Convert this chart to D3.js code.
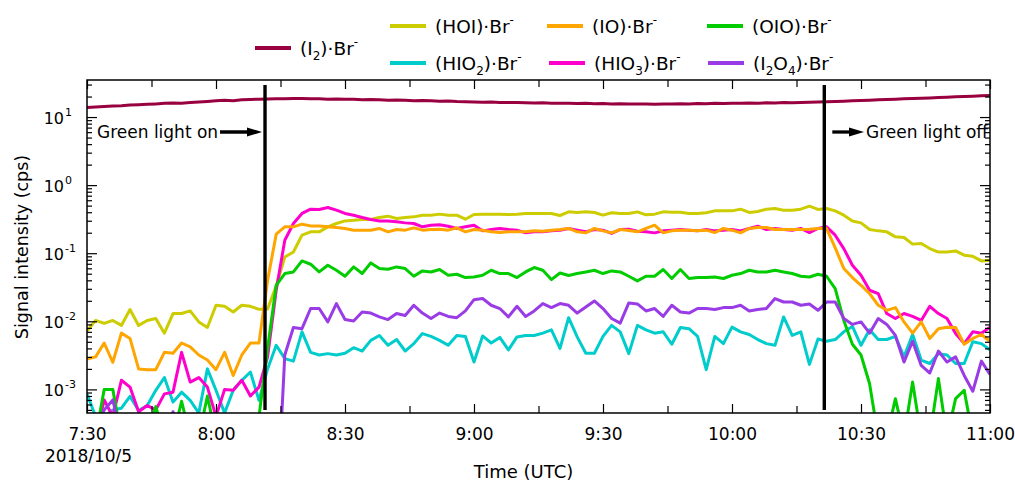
<!DOCTYPE html>
<html>
<head>
<meta charset="utf-8">
<style>
body { margin: 0; background: #fff; }
text { font-family: "DejaVu Sans", sans-serif; fill: #000; }
.tick line { stroke: #000; stroke-width: 1.2px; }
.series { fill: none; stroke-width: 3px; stroke-linejoin: round; }
</style>
<title></title>
</head>
<body>
<script src="https://cdn.jsdelivr.net/npm/d3@7/dist/d3.min.js"></script>
<script>

// samples every 2 minutes, 7:30 - 11:00 UTC, 2018/10/5
var start = new Date(2018, 9, 5, 7, 30),
    stepMin = 2;

var i2 = [13.8, 14.1, 14.3, 14.5, 14.6, 15.0, 15.2, 15.4, 15.6, 15.9,
  16.1, 16.0, 16.4, 16.6, 16.9, 17.3, 17.6, 17.4, 17.9, 18.1,
  18.3, 18.4, 18.6, 18.5, 18.7, 18.8, 18.6, 18.5, 18.3, 18.4,
  18.2, 18.3, 18.0, 18.1, 17.9, 17.7, 17.8, 17.6, 17.4, 17.5,
  17.3, 17.1, 17.2, 16.9, 16.8, 16.7, 16.5, 16.6, 16.4, 16.3,
  16.4, 16.2, 16.1, 16.2, 16.0, 15.9, 16.0, 15.8, 15.9, 15.7,
  15.8, 15.6, 15.7, 15.5, 15.6, 15.5, 15.4, 15.6, 15.5, 15.7,
  15.6, 15.8, 15.7, 15.9, 15.8, 16.0, 15.9, 16.1, 16.0, 16.2,
  16.1, 16.3, 16.2, 16.4, 16.5, 16.6, 16.8, 16.9, 17.1, 17.3,
  17.5, 17.7, 17.9, 18.1, 18.3, 18.5, 18.7, 18.9, 19.1, 19.3,
  19.5, 19.8, 20.0, 20.2, 20.5, 20.8];

var hoi = [0.0072, 0.0103, 0.0093, 0.0103, 0.0087, 0.0149, 0.0087, 0.0103, 0.011, 0.0067,
  0.013, 0.013, 0.0142, 0.0098, 0.0081, 0.0172, 0.0166, 0.0137, 0.0172, 0.0166,
  0.015, 0.0152, 0.033, 0.088, 0.104, 0.184, 0.206, 0.206, 0.244, 0.273,
  0.298, 0.306, 0.313, 0.313, 0.335, 0.35, 0.324, 0.335, 0.342, 0.362,
  0.362, 0.375, 0.362, 0.362, 0.316, 0.371, 0.375, 0.375, 0.375, 0.371,
  0.375, 0.384, 0.384, 0.384, 0.384, 0.358, 0.405, 0.397, 0.405, 0.397,
  0.362, 0.392, 0.384, 0.384, 0.405, 0.366, 0.375, 0.405, 0.40, 0.40,
  0.384, 0.384, 0.392, 0.419, 0.419, 0.419, 0.444, 0.397, 0.41, 0.444,
  0.454, 0.429, 0.429, 0.444, 0.491, 0.439, 0.454, 0.419, 0.362, 0.298,
  0.279, 0.223, 0.213, 0.206, 0.174, 0.170, 0.136, 0.139, 0.117, 0.104,
  0.104, 0.108, 0.0935, 0.090, 0.077, 0.079];

var hio2 = [0.00086, 0.0004, 0.0004, 0.0005, 0.00053, 0.00079, 0.00049, 0.00058, 0.00097, 0.00149,
  0.00065, 0.00091, 0.00069, 0.00045, 0.0020, 0.00097, 0.00045, 0.00097, 0.00136, 0.0018,
  0.00069, 0.002, 0.00444, 0.00283, 0.0026, 0.0070, 0.0035, 0.0032, 0.00335, 0.0032,
  0.0034, 0.0041, 0.00366, 0.00525, 0.0062, 0.00444, 0.0054, 0.00366, 0.0047, 0.0066,
  0.0060, 0.00525, 0.00444, 0.0062, 0.0060, 0.00252, 0.0061, 0.0048, 0.0058, 0.0038,
  0.0059, 0.0062, 0.0062, 0.0067, 0.0075, 0.0040, 0.0113, 0.0059, 0.0034, 0.0034,
  0.0060, 0.0087, 0.0070, 0.00335, 0.0087, 0.0075, 0.0067, 0.0070, 0.0046, 0.0081,
  0.0078, 0.0060, 0.00195, 0.0060, 0.0047, 0.0082, 0.0070, 0.0064, 0.0054, 0.0047,
  0.00444, 0.0116, 0.0062, 0.0070, 0.00233, 0.0055, 0.0051, 0.0054, 0.0070, 0.0084,
  0.00444, 0.0075, 0.0054, 0.0054, 0.0060, 0.0030, 0.0064, 0.0027, 0.0024, 0.00335,
  0.0032, 0.0024, 0.0024, 0.0050, 0.0047, 0.0038];

var hio3 = [0.0002, 0.0002, 0.0007, 0.0004, 0.00136, 0.00108, 0.00047, 0.00058, 0.0005, 0.00086,
  0.00091, 0.0035, 0.00128, 0.00149, 0.00108, 0.0004, 0.001, 0.00097, 0.00136, 0.0008,
  0.00108, 0.003, 0.0286, 0.155, 0.273, 0.384, 0.444, 0.439, 0.47, 0.429,
  0.384, 0.362, 0.335, 0.313, 0.298, 0.298, 0.289, 0.279, 0.273, 0.244,
  0.258, 0.261, 0.249, 0.231, 0.244, 0.258, 0.213, 0.223, 0.231, 0.223,
  0.218, 0.199, 0.206, 0.206, 0.213, 0.218, 0.231, 0.218, 0.206, 0.223,
  0.218, 0.195, 0.223, 0.225, 0.211, 0.206, 0.199, 0.213, 0.218, 0.223,
  0.218, 0.213, 0.223, 0.213, 0.218, 0.223, 0.213, 0.231, 0.249, 0.223,
  0.231, 0.223, 0.218, 0.231, 0.201, 0.231, 0.244, 0.184, 0.117, 0.0666,
  0.0475, 0.0286, 0.0255, 0.013, 0.011, 0.013, 0.0118, 0.0103, 0.0166, 0.013,
  0.011, 0.0066, 0.0047, 0.0070, 0.0067, 0.0082];

var io = [0.0028, 0.0030, 0.0048, 0.0025, 0.0067, 0.0056, 0.0020, 0.00195, 0.00195, 0.0035,
  0.0034, 0.0048, 0.0042, 0.0032, 0.0027, 0.00195, 0.0035, 0.0016, 0.0032, 0.0048,
  0.0048, 0.04, 0.19, 0.244, 0.244, 0.267, 0.252, 0.252, 0.244, 0.239,
  0.231, 0.218, 0.218, 0.218, 0.231, 0.206, 0.223, 0.218, 0.236, 0.218,
  0.223, 0.225, 0.218, 0.236, 0.206, 0.223, 0.218, 0.206, 0.201, 0.206,
  0.206, 0.206, 0.213, 0.211, 0.218, 0.223, 0.231, 0.206, 0.199, 0.231,
  0.213, 0.199, 0.223, 0.215, 0.206, 0.231, 0.258, 0.199, 0.213, 0.218,
  0.218, 0.213, 0.218, 0.201, 0.231, 0.218, 0.199, 0.231, 0.239, 0.239,
  0.223, 0.223, 0.223, 0.223, 0.225, 0.23, 0.23, 0.12, 0.0596, 0.0439,
  0.0338, 0.0255, 0.0172, 0.0145, 0.0159, 0.0098, 0.0067, 0.0098, 0.0056, 0.0078,
  0.0082, 0.0081, 0.0046, 0.0056, 0.0064, 0.0051];

var oio = [0.0002, 0.0002, 0.001, 0.001, 0.0002, 0.0002, 0.0002, 0.0002, 0.00056, 0.0002,
  0.0002, 0.00067, 0.0002, 0.0002, 0.0008, 0.0002, 0.0002, 0.0002, 0.0002, 0.0002,
  0.0004, 0.004, 0.0338, 0.0503, 0.0531, 0.077, 0.0689, 0.0531, 0.0666, 0.0562,
  0.0459, 0.0629, 0.0503, 0.072, 0.0596, 0.0582, 0.0629, 0.0596, 0.0459, 0.055,
  0.0531, 0.0576, 0.0475, 0.0491, 0.0439, 0.0448, 0.0475, 0.0562, 0.0503, 0.0503,
  0.0439, 0.0531, 0.0616, 0.0562, 0.041, 0.0513, 0.047, 0.0503, 0.0531, 0.0562,
  0.0503, 0.055, 0.0531, 0.0459, 0.0392, 0.0459, 0.0459, 0.0576, 0.0425, 0.0576,
  0.0425, 0.0439, 0.0439, 0.0448, 0.0425, 0.0475, 0.0503, 0.0562, 0.0531, 0.0531,
  0.0562, 0.0531, 0.0503, 0.0459, 0.0448, 0.0491, 0.0459, 0.0303, 0.0103, 0.0046,
  0.0032, 0.00121, 0.0002, 0.0002, 0.00073, 0.0002, 0.00128, 0.0002, 0.0002, 0.00144,
  0.0002, 0.00073, 0.00097, 0.0002, 0.0002, 0.0002];

var i2o4 = [0.0002, 0.0002, 0.0005, 0.0007, 0.0002, 0.0002, 0.0002, 0.0002, 0.0002, 0.0002,
  0.00047, 0.0002, 0.0002, 0.0002, 0.0002, 0.0002, 0.0002, 0.0002, 0.0002, 0.0002,
  0.0002, 0.0002, 0.00001, 0.0032, 0.0081, 0.0078, 0.0154, 0.0154, 0.0098, 0.0182,
  0.0106, 0.0101, 0.0137, 0.0132, 0.0116, 0.0106, 0.013, 0.0122, 0.0172, 0.0132,
  0.011, 0.0132, 0.0118, 0.0113, 0.0142, 0.0208, 0.0216, 0.0172, 0.0154, 0.0116,
  0.0166, 0.0118, 0.0142, 0.0182, 0.0159, 0.0182, 0.0172, 0.0132, 0.0162, 0.0199,
  0.0154, 0.011, 0.0094, 0.0186, 0.018, 0.0142, 0.0154, 0.0118, 0.0172, 0.0137,
  0.0132, 0.0154, 0.0154, 0.0149, 0.0159, 0.0159, 0.0172, 0.0142, 0.0149, 0.0154,
  0.0216, 0.0192, 0.0192, 0.0172, 0.018, 0.0145, 0.0192, 0.0192, 0.011, 0.0090,
  0.0098, 0.0067, 0.011, 0.0090, 0.0062, 0.00252, 0.0051, 0.00225, 0.00174, 0.00366,
  0.00252, 0.0030, 0.0016, 0.00094, 0.0026, 0.00166];

var times = i2.map(function(d, i) { return d3.timeMinute.offset(start, i * stepMin); });

var lightOn = new Date(2018, 9, 5, 8, 11, 24),
    lightOff = new Date(2018, 9, 5, 10, 21, 28);

var yDecades = [1e-3, 1e-2, 1e-1, 1, 10];
var yExponents = ["-3", "-2", "-1", "0", "1"];

// label pieces: 0 normal, 1 subscript, 2 superscript
var series = [
  {key: "i2",   values: i2,   color: "#990040", label: [["(I",0],["2",1],[")·Br",0],["-",2]]},
  {key: "hoi",  values: hoi,  color: "#cccc00", label: [["(HOI)·Br",0],["-",2]]},
  {key: "hio2", values: hio2, color: "#00cccc", label: [["(HIO",0],["2",1],[")·Br",0],["-",2]]},
  {key: "hio3", values: hio3, color: "#ff00cc", label: [["(HIO",0],["3",1],[")·Br",0],["-",2]]},
  {key: "io",   values: io,   color: "#ffa500", label: [["(IO)·Br",0],["-",2]]},
  {key: "oio",  values: oio,  color: "#00cc00", label: [["(OIO)·Br",0],["-",2]]},
  {key: "i2o4", values: i2o4, color: "#9a3ce6", label: [["(I",0],["2",1],["O",0],["4",1],[")·Br",0],["-",2]]}
];

// legend slots
var legendPos = {
  i2: [255, 48], hoi: [390, 26], hio2: [390, 63], io: [547, 26],
  hio3: [549, 63], oio: [707, 26], i2o4: [708, 63]
};

var width = 1015, height = 485,
    pLeft = 87, pRight = 990, pTop = 80, pBottom = 413;

var svg = d3.select("body").append("svg")
    .attr("width", width)
    .attr("height", height);

var x = d3.scaleTime()
    .domain([start, new Date(2018, 9, 5, 11, 0)])
    .range([pLeft, pRight]);

var y = d3.scaleLog()
    .domain([4.5e-4, 35])
    .range([pBottom, pTop]);

svg.append("clipPath").attr("id", "plot")
  .append("rect")
    .attr("x", pLeft).attr("y", pTop)
    .attr("width", pRight - pLeft).attr("height", pBottom - pTop);

// lines
var line = d3.line()
    .x(function(d) { return x(d[0]); })
    .y(function(d) { return y(d[1]); });

svg.append("g").attr("clip-path", "url(#plot)")
  .selectAll("path")
  .data(series)
  .enter().append("path")
    .attr("class", "series")
    .attr("stroke", function(d) { return d.color; })
    .attr("d", function(d) { return line(d.values.map(function(v, i) { return [times[i], v]; })); });

// axes, ticks inward
var xMajor = d3.timeMinute.every(30).range(start, new Date(2018, 9, 5, 11, 1));
var xMinor = d3.timeMinute.every(15).range(start, new Date(2018, 9, 5, 11, 1))
    .filter(function(d) { return d.getMinutes() % 30 != 0; });

var yMinor = [];
yDecades.concat([1e-4]).forEach(function(p) {
  d3.range(2, 10).forEach(function(m) {
    var v = p * m;
    if (v >= y.domain()[0] && v <= y.domain()[1]) yMinor.push(v);
  });
});

var xAxis = svg.append("g")
    .attr("transform", "translate(0," + pBottom + ")")
    .call(d3.axisBottom(x).tickValues(xMajor).tickSize(-9).tickPadding(15)
      .tickFormat(d3.timeFormat("%-H:%M")));
xAxis.selectAll("text").attr("font-size", 17).attr("font-family", "DejaVu Sans");

svg.append("g")
    .attr("transform", "translate(0," + pBottom + ")")
    .call(d3.axisBottom(x).tickValues(xMinor).tickSize(-7).tickFormat(""));

svg.append("g")
    .attr("transform", "translate(0," + pTop + ")")
    .call(d3.axisTop(x).tickValues(xMajor).tickSize(-9).tickFormat(""));

svg.append("g")
    .attr("transform", "translate(0," + pTop + ")")
    .call(d3.axisTop(x).tickValues(xMinor).tickSize(-7).tickFormat(""));

svg.append("g")
    .attr("transform", "translate(" + pLeft + ",0)")
    .call(d3.axisLeft(y).tickValues(yDecades).tickSize(-10).tickFormat(""));

svg.append("g")
    .attr("transform", "translate(" + pLeft + ",0)")
    .call(d3.axisLeft(y).tickValues(yMinor).tickSize(-5).tickFormat(""));

svg.append("g")
    .attr("transform", "translate(" + pRight + ",0)")
    .call(d3.axisRight(y).tickValues(yDecades).tickSize(-10).tickFormat(""));

svg.append("g")
    .attr("transform", "translate(" + pRight + ",0)")
    .call(d3.axisRight(y).tickValues(yMinor).tickSize(-5).tickFormat(""));

svg.selectAll(".domain").remove();

svg.append("rect")
    .attr("x", pLeft).attr("y", pTop)
    .attr("width", pRight - pLeft).attr("height", pBottom - pTop)
    .attr("fill", "none").attr("stroke", "#000").attr("stroke-width", 1.5);

// y tick labels 10^n
var ylab = svg.append("g").selectAll("g")
    .data(yDecades)
    .enter().append("g");
ylab.append("text")
    .attr("x", 64)
    .attr("y", function(d) { return y(d) + 7; })
    .attr("text-anchor", "end")
    .attr("font-size", 16)
    .text("10");
ylab.append("text")
    .attr("x", 65)
    .attr("y", function(d) { return y(d) - 1; })
    .attr("font-size", 11)
    .text(function(d, i) { return yExponents[i]; });

// axis titles
svg.append("text")
    .attr("x", 45).attr("y", 462)
    .attr("font-size", 17)
    .text("2018/10/5");

svg.append("text")
    .attr("x", (pLeft + pRight) / 2 - 15).attr("y", 478)
    .attr("text-anchor", "middle")
    .attr("font-size", 18)
    .text("Time (UTC)");

svg.append("text")
    .attr("transform", "translate(28," + 247 + ") rotate(-90)")
    .attr("text-anchor", "middle")
    .attr("font-size", 17.5)
    .text("Signal intensity (cps)");

// light on / off markers
svg.append("g").selectAll("line")
    .data([lightOn, lightOff])
    .enter().append("line")
    .attr("x1", function(d) { return x(d); })
    .attr("x2", function(d) { return x(d); })
    .attr("y1", pTop + 5).attr("y2", pBottom - 3)
    .attr("stroke", "#000").attr("stroke-width", 3.4);

function arrow(x0, x1, yy) {
  svg.append("line")
      .attr("x1", x0).attr("x2", x1 - 10)
      .attr("y1", yy).attr("y2", yy)
      .attr("stroke", "#000").attr("stroke-width", 3.3);
  svg.append("path")
      .attr("d", "M" + (x1 - 15) + "," + (yy - 4.5) + "L" + x1 + "," + yy + "L" + (x1 - 15) + "," + (yy + 4.5) + "Z")
      .attr("fill", "#000");
}

arrow(220, x(lightOn) - 3, 132);
svg.append("text")
    .attr("x", 97).attr("y", 138)
    .attr("font-size", 17)
    .text("Green light on");

arrow(x(lightOff) + 8, 864, 132);
svg.append("text")
    .attr("x", 866).attr("y", 138)
    .attr("font-size", 17)
    .text("Green light off");

// legend
function addLabel(sel, parts, size) {
  var shift = 0;
  parts.forEach(function(p) {
    var target = p[1] == 1 ? size * 0.3 : p[1] == 2 ? -size * 0.45 : 0;
    sel.append("tspan")
        .attr("dy", target - shift)
        .attr("font-size", p[1] ? size * 0.65 : size)
        .text(p[0]);
    shift = target;
  });
}

var legend = svg.append("g").selectAll("g")
    .data(series)
    .enter().append("g")
    .attr("transform", function(d) { return "translate(" + legendPos[d.key][0] + "," + legendPos[d.key][1] + ")"; });

legend.append("line")
    .attr("x1", 0).attr("x2", 36)
    .attr("stroke", function(d) { return d.color; })
    .attr("stroke-width", 4);

legend.append("text")
    .attr("x", 45).attr("y", 6.5)
    .each(function(d) { addLabel(d3.select(this), d.label, 18.5); });

</script>
</body>
</html>
